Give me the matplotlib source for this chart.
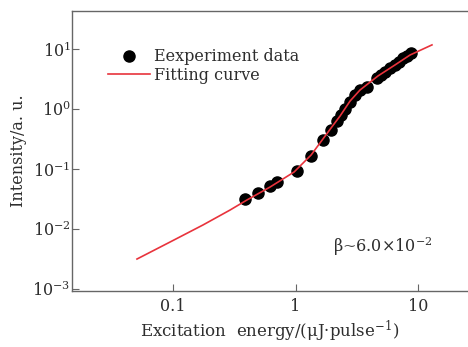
import matplotlib
matplotlib.use('Agg')
import matplotlib.pyplot as plt

plt.rcParams['font.family'] = ['DejaVu Serif']
plt.rcParams['mathtext.fontset'] = 'dejavuserif'

exp_x = [0.387, 0.494, 0.620, 0.706, 1.03, 1.34, 1.68, 1.95, 2.18, 2.35, 2.54,
         2.79, 3.06, 3.36, 3.84, 4.63, 4.99, 5.38, 5.90, 6.49, 7.00, 7.55, 8.13, 8.77]
exp_y = [0.0316, 0.0398, 0.0521, 0.0607, 0.0926, 0.165, 0.304, 0.447, 0.631, 0.794, 1.0,
         1.31, 1.71, 2.07, 2.33, 3.29, 3.69, 4.14, 4.82, 5.41, 6.07, 7.08, 7.64, 8.58]

# fitting curve
fit_x = [0.0508, 0.0946, 0.176, 0.292, 0.402, 0.619, 0.973, 1.34, 1.65, 1.95,
         2.31, 2.79, 3.36, 4.71, 6.48, 8.61, 13.0]
fit_y = [0.00316, 0.00607, 0.0117, 0.0207, 0.0305, 0.050, 0.089, 0.171, 0.304, 0.482,
         0.764, 1.36, 2.07, 3.55, 5.41, 7.94, 11.7]

text_c = '#2e2e2e'
axis_c = '#666666'

fig = plt.figure(figsize=(4.68, 3.47), dpi=100)
ax = fig.add_axes([0.154, 0.1614, 0.846, 0.8069])

ax.plot(exp_x, exp_y, 'o', color='black', ms=8, label='Eexperiment data', zorder=2)
ax.plot(fit_x, fit_y, '-', color='#e8333c', lw=1.2, label='Fitting curve', zorder=3)

ax.set_xscale('log')
ax.set_yscale('log')
ax.set_xlim(10 ** -1.824, 10 ** 1.408)
ax.set_ylim(10 ** -3.033, 10 ** 1.633)
ax.set_xticks([0.1, 1, 10])
ax.set_xticklabels(['0.1', '1', '10'])
ax.set_yticks([1e-3, 1e-2, 1e-1, 1, 10])
ax.minorticks_off()

ax.tick_params(direction='in', length=5, width=0.8, color=axis_c,
               labelcolor=text_c, labelsize=11.5)
ax.tick_params(axis='x', pad=5)
ax.tick_params(axis='y', pad=1)
for s in ['left', 'bottom', 'top']:
    ax.spines[s].set_color(axis_c)
    ax.spines[s].set_linewidth(1.0)
ax.spines['right'].set_visible(False)

ax.set_xlabel('Excitation  energy/(μJ·pulse$^{-1}$)', color=text_c, fontsize=12, labelpad=3)
ax.set_ylabel('Intensity/a. u.', color=text_c, fontsize=11.5, labelpad=4)

ax.text(0.659, 0.157, 'β~6.0×10$^{-2}$', transform=ax.transAxes, color=text_c,
        fontsize=11.5, va='center', ha='left')

leg = ax.legend(loc='upper left', bbox_to_anchor=(0.075, 0.89), frameon=False,
                fontsize=11.5, handlelength=2.6, handletextpad=0.3,
                labelspacing=0.1, borderaxespad=0)
for t in leg.get_texts():
    t.set_color(text_c)

fig.savefig('out.png', dpi=100)
